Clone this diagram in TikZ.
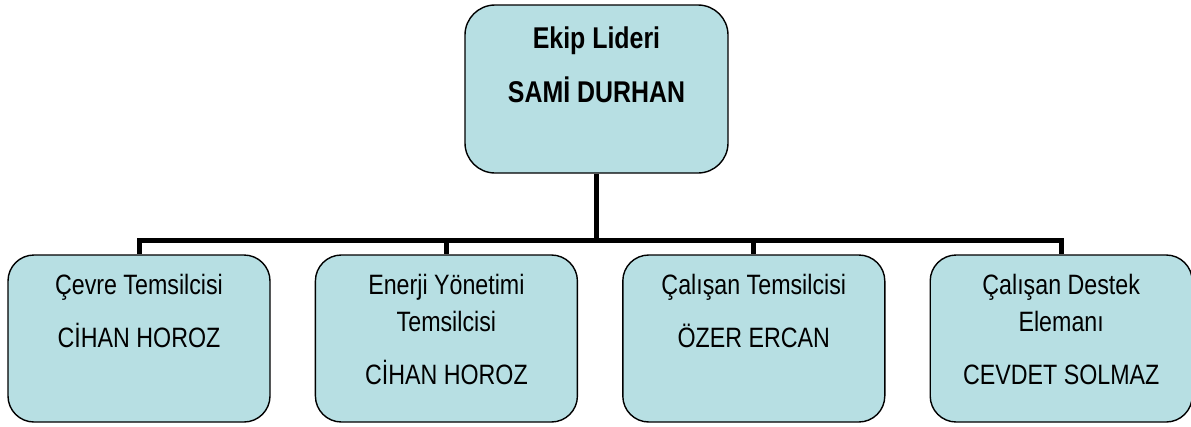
\documentclass[tikz,border=0pt]{standalone}
\usepackage{fontspec}
\setmainfont{Liberation Sans}[FakeStretch=0.83]
\usepackage{xcolor}
\usetikzlibrary{positioning}
\definecolor{boxfill}{RGB}{183,223,227}

\begin{document}
\begin{tikzpicture}[
    x=1pt, y=1pt,
    node distance=44pt,
    unit/.style={rectangle, rounded corners=26pt, draw, fill=boxfill, line width=1.4pt, minimum width=262pt, minimum height=167pt, inner sep=0pt},
    unittext/.style={align=center, inner sep=0pt, font={\fontsize{28}{37}\selectfont}},
    link/.style={line width=5pt}
]
    \useasboundingbox (0,0) rectangle (1191,-426);

    \node[unit, rounded corners=30pt, minimum width=263pt, minimum height=168pt] (leader) at (596.5,-89) {};
    \node[unit] (env) at (139,-338.5) {};
    \node[unit, right=of env] (energy) {};
    \node[unit, right=of energy] (staff) {};
    \node[unit, right=of staff] (support) {};

    \node[unittext, font={\fontsize{30}{37}\selectfont\bfseries}, below=22pt of leader.north] (leadertext) {Ekip Lideri\\[17pt]SAMİ DURHAN};
    \node[unittext, below=20pt of env.north] (envtext) {Çevre Temsilcisi\\[16pt]CİHAN HOROZ};
    \node[unittext, below=20pt of energy.north] (energytext) {Enerji Yönetimi\\Temsilcisi\\[16pt]CİHAN HOROZ};
    \node[unittext, below=20pt of staff.north] (stafftext) {Çalışan Temsilcisi\\[16pt]ÖZER ERCAN};
    \node[unittext, below=20pt of support.north] (supporttext) {Çalışan Destek\\Elemanı\\[16pt]CEVDET SOLMAZ};

    \coordinate (hub) at ([yshift=-67pt]leader.south);
    \draw[link] (leader.south) -- (hub);
    \foreach \u in {env,energy,staff,support}
        \draw[link] (hub) -| (\u.north);
\end{tikzpicture}
\end{document}
